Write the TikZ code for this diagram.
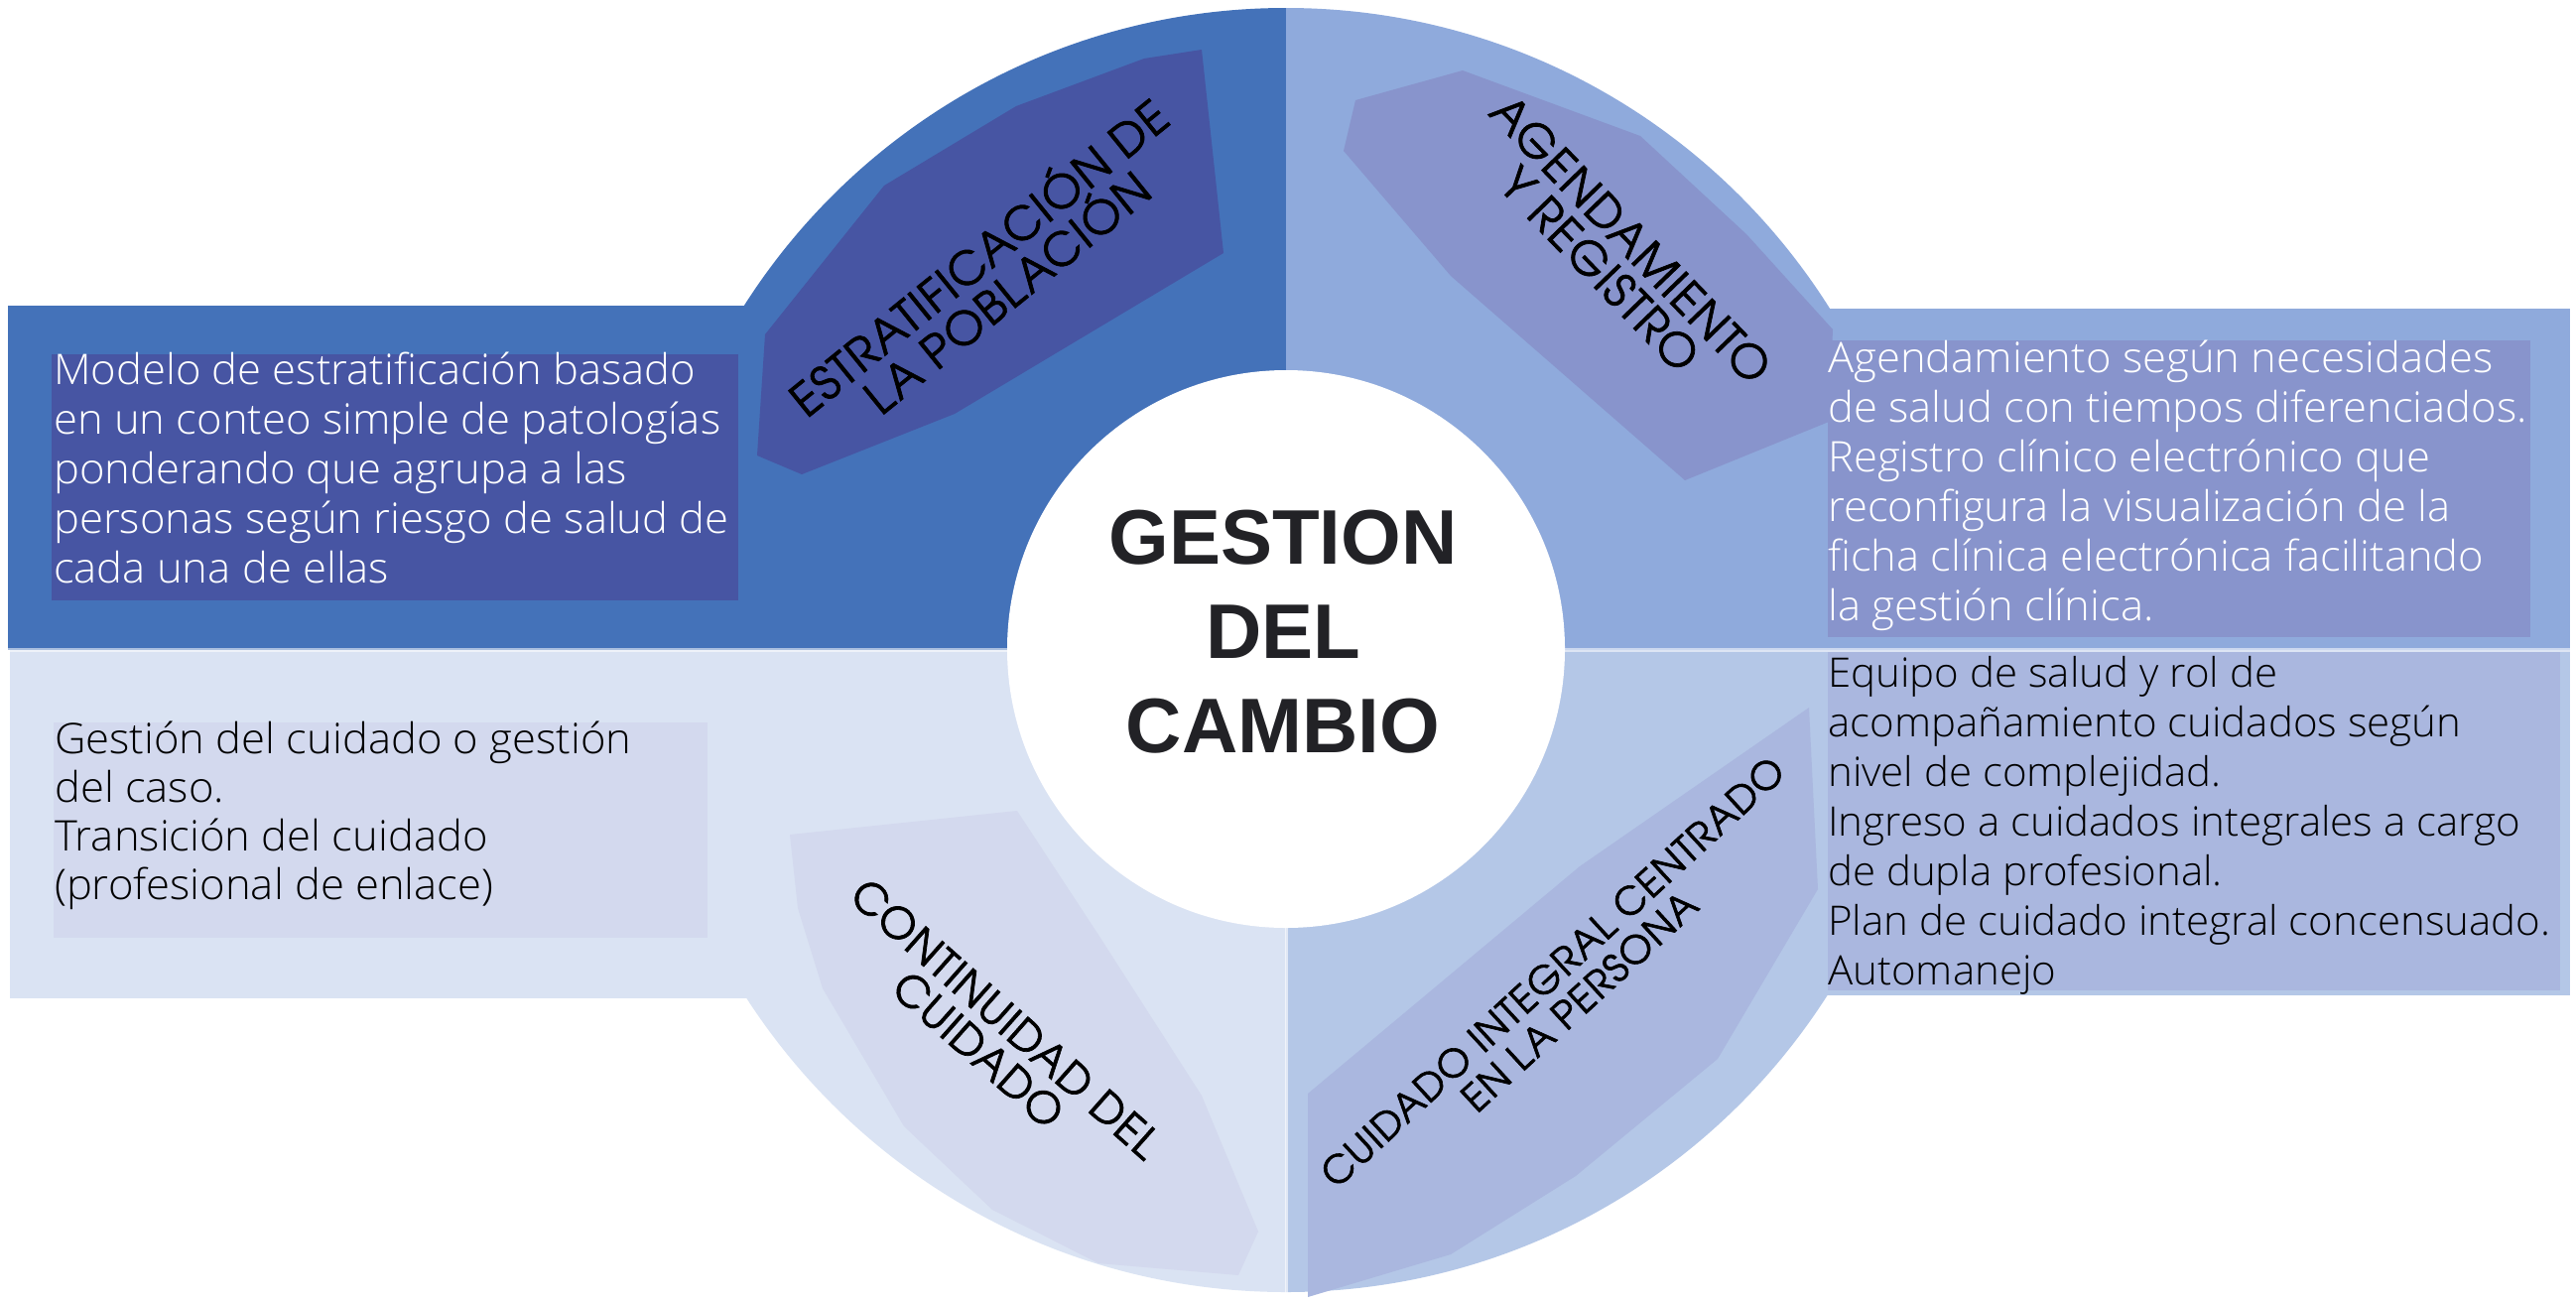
\documentclass[tikz,border=0pt]{standalone}
\usepackage{fontspec}
\IfFontExistsTF{Open Sans Light}{\setmainfont{Open Sans Light}[FakeStretch=1.025]}{\setmainfont{Open Sans}}
\IfFontExistsTF{texgyreadventor-regular.otf}{\newfontfamily\labfont{texgyreadventor-regular.otf}[LetterSpace=3,FakeBold=1.6]}{\newfontfamily\labfont{Poppins}}
\newfontfamily\ctrfont{Liberation Sans}
\definecolor{qTL}{RGB}{68,114,185}
\definecolor{pTL}{RGB}{71,85,163}
\definecolor{qTR}{RGB}{143,170,220}
\definecolor{pTR}{RGB}{136,148,204}
\definecolor{qBL}{RGB}{218,227,243}
\definecolor{pBL}{RGB}{211,217,238}
\definecolor{qBR}{RGB}{180,199,231}
\definecolor{pBR}{RGB}{170,183,223}
\definecolor{ctrtext}{RGB}{34,34,38}
\tikzset{
  bodytext/.style={anchor=base west, inner sep=0pt, font=\fontsize{42.5}{50}\selectfont},
  bodysmall/.style={anchor=base west, inner sep=0pt, font=\fontsize{41}{50}\selectfont},
  label/.style={align=center, inner sep=0pt, text=black},
}
\begin{document}
\begin{tikzpicture}[x=1pt,y=-1pt]
\useasboundingbox (0,0) rectangle (2596,1310);
% quadrant bands
\fill[qTL] (8,308) rectangle (1296,655);
\fill[qTR] (1296,311) rectangle (2590,655);
\fill[qBL] (10,655) rectangle (1296,1006);
\fill[qBR] (1296,655) rectangle (2590,1003);
\begin{scope}\clip (0,0) rectangle (1296,655); \fill[qTL] (1296,655) circle[radius=647pt]; \end{scope}
\begin{scope}\clip (1296,0) rectangle (2596,655); \fill[qTR] (1296,655) circle[radius=647pt]; \end{scope}
\begin{scope}\clip (0,655) rectangle (1296,1310); \fill[qBL] (1296,655) circle[radius=647pt]; \end{scope}
\begin{scope}\clip (1296,655) rectangle (2596,1310); \fill[qBR] (1296,655) circle[radius=647pt]; \end{scope}
% label polygons
\fill[pTL] (1153,59) -- (1211,50) -- (1233,255) -- (962,417) -- (808,478) -- (763,459) -- (771,337) -- (891,187) -- (1024,107) -- cycle;
\fill[pTR] (1366,101) -- (1474,71) -- (1653,137) -- (1760,236) -- (1847,332) -- (1843,425) -- (1698,484) -- (1462,278) -- (1354,152) -- cycle;
\fill[pBL] (796,841) -- (1025,817) -- (1107,942) -- (1211,1104) -- (1268,1241) -- (1248,1285) -- (1107,1273) -- (1000,1219) -- (911,1135) -- (829,996) -- (804,915) -- cycle;
\fill[pBR] (1823,713) -- (1832,896) -- (1731,1067) -- (1588,1185) -- (1462,1264) -- (1318,1307) -- (1318,1102) -- (1592,873) -- cycle;
% text boxes
\fill[pTL] (52,357) rectangle (744,605);
\fill[pTR] (1842,343) rectangle (2550,642);
\fill[pBL] (54,728) rectangle (713,945);
\fill[pBR] (1842,657) rectangle (2580,998);
% separators
\draw[white, opacity=0.55, line width=4pt] (8,655) -- (2590,655);
\draw[white, opacity=0.6, line width=3pt] (1296,655) -- (1296,1305);
% centre
\fill[white] (1296,654) circle[radius=281pt];
\node[align=center, inner sep=0pt, text=ctrtext, font=\ctrfont\bfseries\fontsize{78}{95}\selectfont] (ctr) at (1293,637) {GESTION\\DEL\\CAMBIO};
% rotated labels
\node[label, rotate=39, font=\labfont\fontsize{46}{44}\selectfont] (lblTL) at (998,274) {ESTRATIFICACIÓN DE\\LA POBLACIÓN};
\node[label, rotate=-46, font=\labfont\fontsize{46}{44}\selectfont] (lblTR) at (1628,256) {AGENDAMIENTO\\Y REGISTRO};
\node[label, rotate=-41.5, font=\labfont\fontsize{43}{42}\selectfont] (lblBL) at (1000,1042) {CONTINUIDAD DEL\\CUIDADO};
\node[label, rotate=42.6, font=\labfont\fontsize{38.5}{40}\selectfont] (lblBR) at (1578,994) {CUIDADO INTEGRAL CENTRADO\\EN LA PERSONA};
% body texts
\foreach \t [count=\i] in {{Modelo de estratificación basado},{en un conteo simple de patologías},{ponderando que agrupa a las},{personas según riesgo de salud de},{cada una de ellas}}
  \node[bodytext, text=white] (tl\i) at (54,{387+50*(\i-1)}) {\t};
\foreach \t [count=\i] in {{Agendamiento según necesidades},{de salud con tiempos diferenciados.},{Registro clínico electrónico que},{reconfigura la visualización de la},{ficha clínica electrónica facilitando},{la gestión clínica.}}
  \node[bodytext, text=white] (tr\i) at (1842,{375+50*(\i-1)}) {\t};
\foreach \t [count=\i] in {{Gestión del cuidado o gestión},{del caso.},{Transición del cuidado},{(profesional de enlace)}}
  \node[bodytext, text=black] (bl\i) at (55,{759+49.3*(\i-1)}) {\t};
\foreach \t [count=\i] in {{Equipo de salud y rol de},{acompañamiento cuidados según},{nivel de complejidad.},{Ingreso a cuidados integrales a cargo},{de dupla profesional.},{Plan de cuidado integral concensuado.},{Automanejo}}
  \node[bodysmall, text=black] (br\i) at (1842,{692+50*(\i-1)}) {\t};
\end{tikzpicture}
\end{document}
